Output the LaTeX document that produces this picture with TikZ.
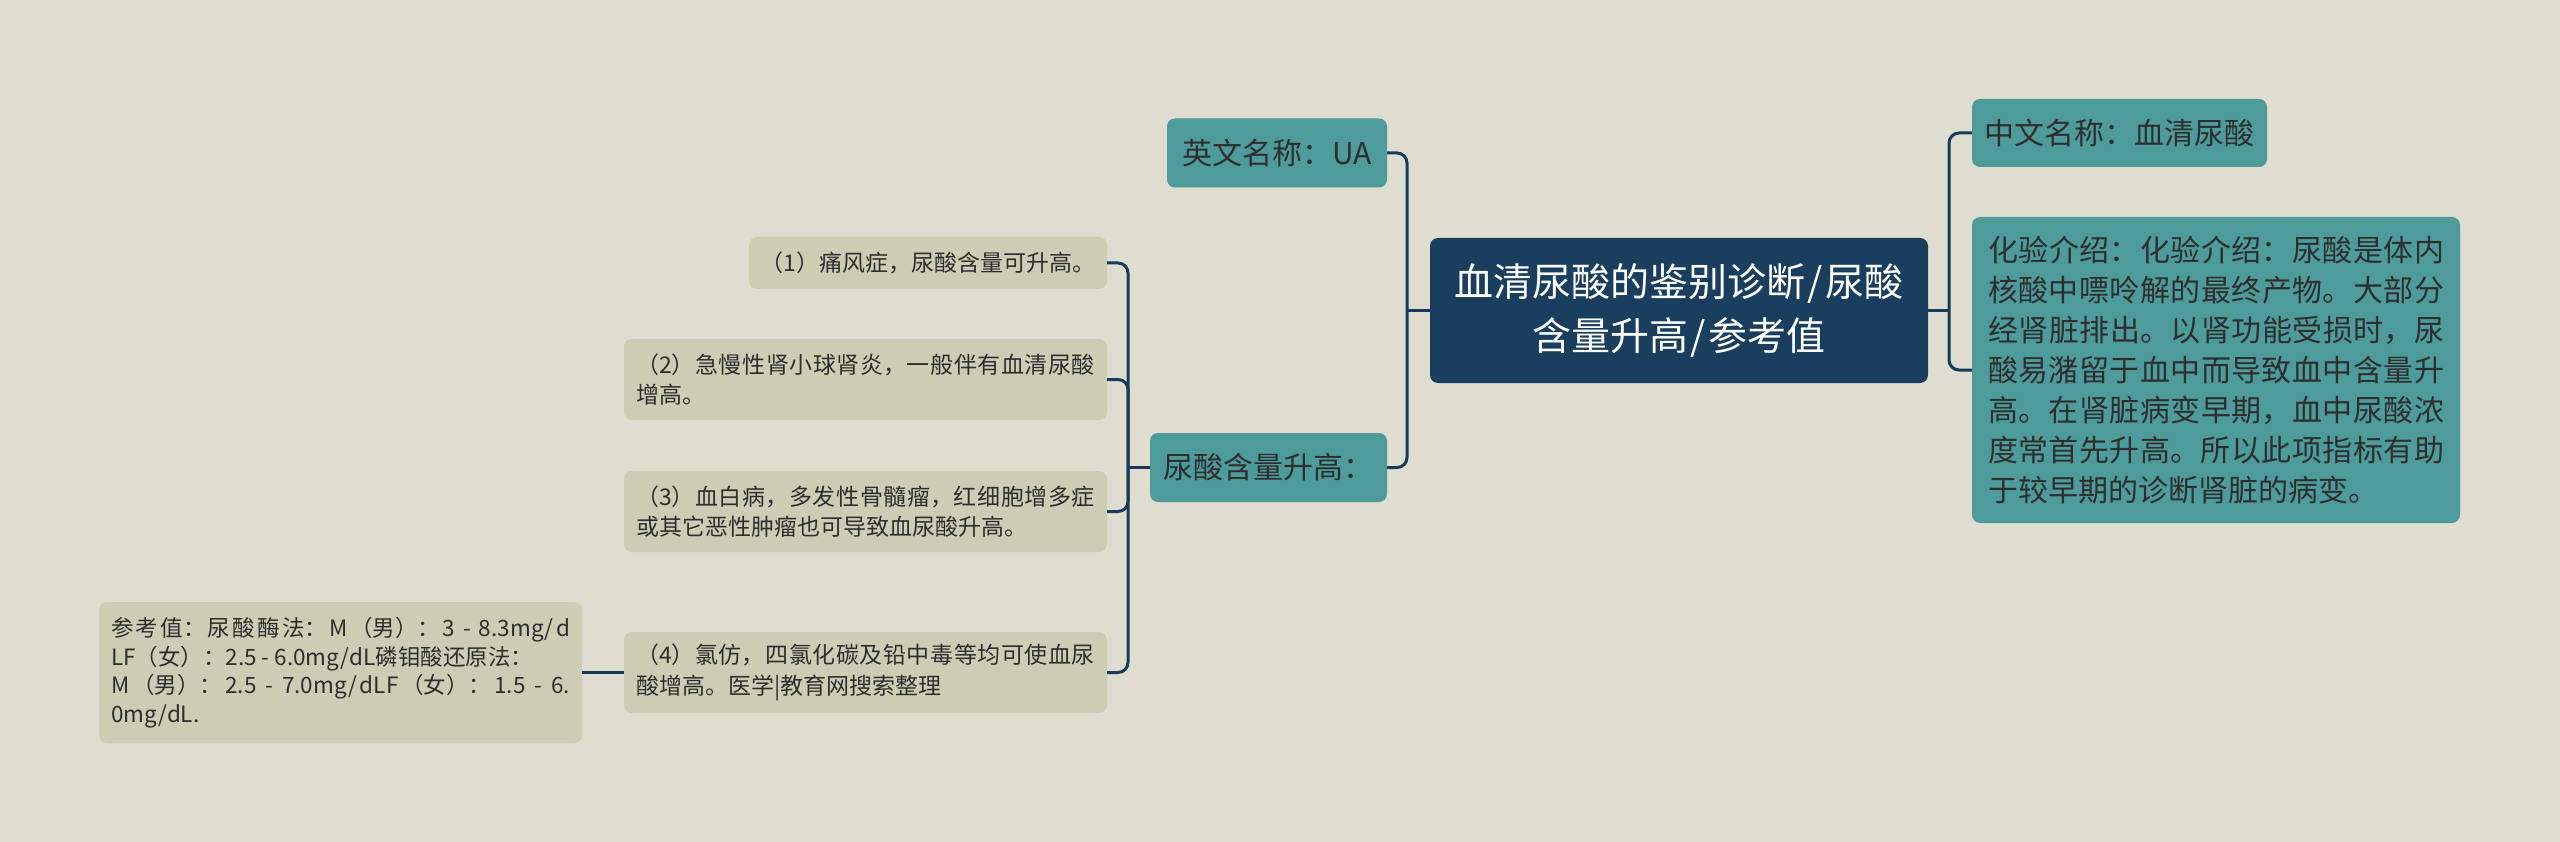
\documentclass[tikz,border=0pt]{standalone}
\usepackage{fontspec}
\setmainfont{Noto Sans CJK SC}
\XeTeXlinebreaklocale "zh"
\XeTeXlinebreakskip=0pt plus 2pt minus 0.5pt
\XeTeXlinebreakpenalty=10000
\definecolor{bgc}{HTML}{DFDDD0}
\definecolor{tealc}{HTML}{4D9C9B}
\definecolor{rootc}{HTML}{193E5E}
\definecolor{tanc}{HTML}{CFCCB5}
\definecolor{linec}{HTML}{183A5B}
\definecolor{txtc}{HTML}{2E2E2E}
\begin{document}
\begin{tikzpicture}[x=1pt,y=-1pt,
  base/.style={rounded corners=8pt, inner sep=0pt, anchor=center},
  rootbox/.style={base, fill=rootc, text=white, font=\fontsize{39}{54}\selectfont, align=center},
  tealbox/.style={base, fill=tealc, text=txtc, font=\fontsize{30}{40}\selectfont},
  tanbox/.style={base, fill=tanc, text=txtc, font=\fontsize{23}{30.3}\selectfont},
  tanjust/.style={tanbox, align=justify, inner xsep=12pt, text width=459pt, minimum height=81pt},
  conn/.style={draw=linec, line width=3pt, rounded corners=10pt}]
\fill[bgc] (0,0) rectangle (2560,842);
\useasboundingbox (0,0) rectangle (2560,842);
% root
\node[rootbox, minimum width=498pt, minimum height=145pt] (root) at (1679,310.5) {血清尿酸的鉴别诊断{\kern2.5pt/\kern2.5pt}尿酸\\含量升高{\kern2.5pt/\kern2.5pt}参考值};
% left teal
\node[tealbox, minimum width=220pt, minimum height=69pt] (en) at (1277,153) {英文名称：UA};
\node[tealbox, minimum width=237pt, minimum height=69pt] (ua) at (1268.5,467.5) {尿酸含量升高：};
% right teal
\node[tealbox, minimum width=295pt, minimum height=68pt] (zh) at (2119.5,133) {中文名称：血清尿酸};
\node[tealbox, align=justify, inner xsep=16pt, text width=456pt, minimum height=306pt] (hy) at (2216,370) {\rightskip=16pt\relax 化验介绍：化验介绍：尿酸是体内\break 核酸中嘌呤解的最终产物。大部分\break 经肾脏排出。以肾功能受损时，尿\break 酸易潴留于血中而导致血中含量升\break 高。在肾脏病变早期，血中尿酸浓\break 度常首先升高。所以此项指标有助\break 于较早期的诊断肾脏的病变。};
% leaves
\node[tanbox, minimum width=358pt, minimum height=52pt] (l1) at (928,263) {（1）痛风症，尿酸含量可升高。};
\node[tanjust, minimum width=483pt] (l2) at (865.5,379.5) {\rightskip=9pt\relax （2）急慢性肾小球肾炎，一般伴有血清尿酸\break 增高。};
\node[tanjust, minimum width=483pt] (l3) at (865.5,511.5) {\rightskip=9pt\relax （3）血白病，多发性骨髓瘤，红细胞增多症\break 或其它恶性肿瘤也可导致血尿酸升高。};
\node[tanjust, minimum width=483pt] (l4) at (865.5,672.5) {\rightskip=9pt\relax （4）氯仿，四氯化碳及铅中毒等均可使血尿\break 酸增高。医学|教育网搜索整理};
\node[tanbox, font=\fontsize{22.5}{28.5}\selectfont, align=justify, inner xsep=12pt, text width=459pt, minimum width=483pt, minimum height=141pt] (ref) at (340.5,672.5) {\rightskip=10pt\relax 参考值：尿酸酶法：M（男）：3 - 8.3mg/d\break LF（女）：2.5 - 6.0mg/dL磷钼酸还原法：\hfill\break M（男）：2.5 - 7.0mg/dLF（女）：1.5 - 6.\break 0mg/dL.};
% junctions
\coordinate (lj) at (1407,310.5);
\coordinate (j2) at (1128,467.5);
\coordinate (rj) at (1949,310.5);
% connectors
\draw[conn] (root.west) -- (lj);
\draw[conn] (en.east) -| (lj) |- (ua.east);
\draw[conn] (ua.west) -- (j2);
\draw[conn] (l1.east) -| (j2) |- (l4.east);
\draw[conn] (l2.east) -| (j2);
\draw[conn] (l3.east) -| (j2);
\draw[conn] (root.east) -- (rj);
\draw[conn] (zh.west) -| (rj) |- (hy.west);
\draw[conn] (l4.west) -- (ref.east);
\end{tikzpicture}
\end{document}
